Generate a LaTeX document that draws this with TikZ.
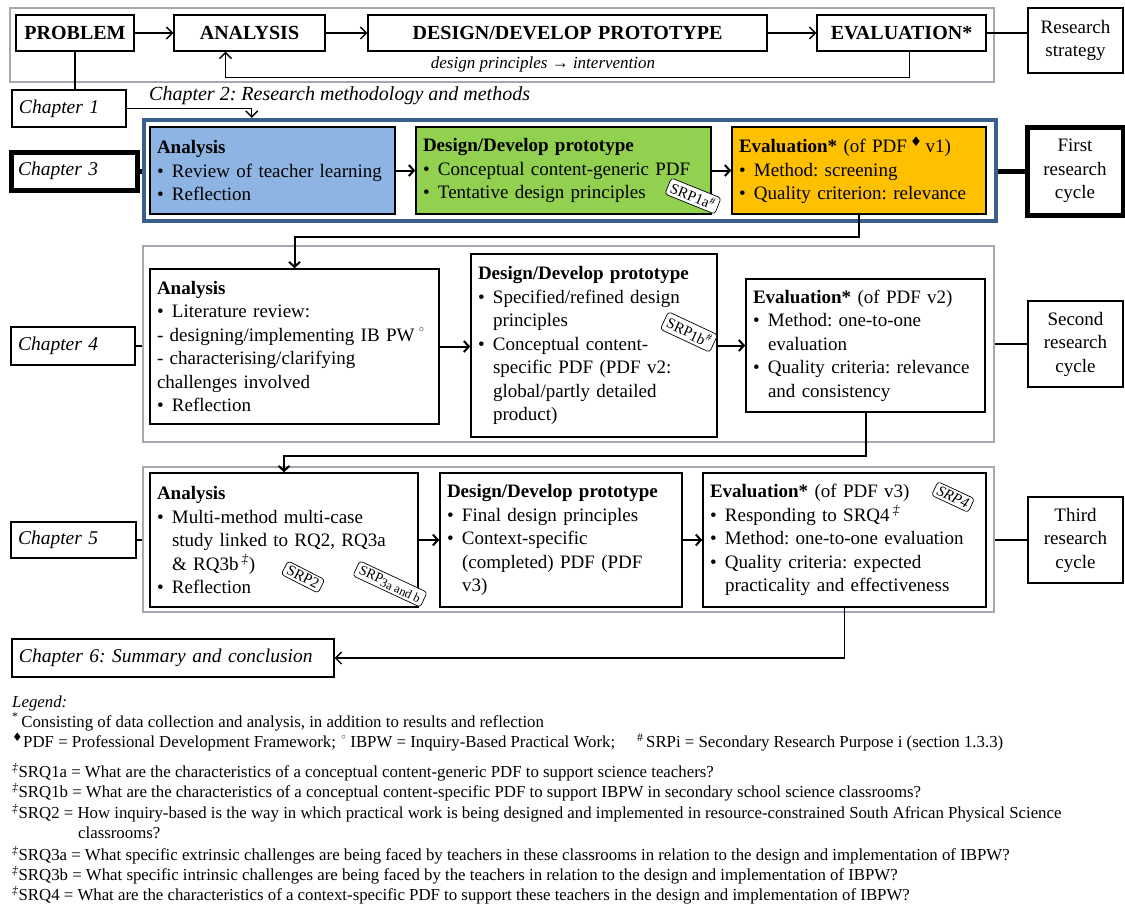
\documentclass[tikz,border=0pt]{standalone}
\usepackage{fontspec}
\setmainfont{Liberation Serif}
\newfontfamily\symfont{DejaVu Sans}
\usetikzlibrary{arrows.meta}
\frenchspacing

\definecolor{anaBlue}{HTML}{8DB4E2}
\definecolor{desGreen}{HTML}{92D050}
\definecolor{evalOrange}{HTML}{FFC000}
\definecolor{cycleBlue}{HTML}{3A5F8C}
\definecolor{frameGray}{HTML}{A3A9B0}

% box from corner (x1,y1) to (x2,y2): name, x1, y1, x2, y2, style, text
\newcommand\placebox[7]{%
  \pgfmathsetmacro\pbW{#4-#2}%
  \pgfmathsetmacro\pbH{#5-#3}%
  \pgfmathsetmacro\pbT{#4-#2-14}%
  \pgfmathsetmacro\pbX{(#2+#4)/2}%
  \pgfmathsetmacro\pbY{(#3+#5)/2}%
  \node[inner xsep=7pt, inner ysep=3pt, #6, minimum width=\pbW pt,
        minimum height=\pbH pt, text width=\pbT pt] (#1) at (\pbX,\pbY) {#7};%
}
% bullet item with hanging indent
\newcommand\bul[1]{\par\noindent\hangindent=15pt\hangafter=1\makebox[15pt][l]{\textbullet}#1\par}
\newcommand\head[1]{\noindent\textbf{#1}}
\newcommand\sym[1]{{\symfont #1}}
\newcommand\ddg{\textsuperscript{\itshape ‡}}

\tikzset{
  topbox/.style={draw, line width=1.4pt, align=center, font=\bfseries\fontsize{20}{23}\selectfont},
  sidebox/.style={draw, line width=1.1pt, align=center, font=\fontsize{19}{23.5}\selectfont},
  chapbox/.style={draw, line width=1.3pt, align=left, font=\itshape\fontsize{19.5}{23}\selectfont},
  stagebox/.style={draw, line width=1.6pt, align=left, font=\fontsize{19}{23.5}\selectfont},
  grayframe/.style={draw=frameGray, line width=1.1pt},
  blueframe/.style={draw=cycleBlue, line width=4.5pt},
  thinarr/.style={line width=1.3pt, -{Straight Barb[length=6pt,width=12pt,line width=1.3pt]}},
  arr/.style={line width=2pt, -{Straight Barb[length=5pt,width=11pt,line width=2pt]}},
  plainline/.style={line width=1.3pt},
  heavyline/.style={line width=5pt},
  tag/.style={draw, line width=0.7pt, rounded corners=3pt, fill=white, inner xsep=3.5pt,
              inner ysep=2.5pt, font=\fontsize{15}{15}\selectfont},
  legtext/.style={anchor=west, inner sep=0pt, font=\fontsize{16.8}{20}\selectfont},
}

\begin{document}
\begin{tikzpicture}[x=1pt, y=-1pt]
\useasboundingbox (0,0) rectangle (1125,906);

% ---------- research strategy ----------
\placebox{sframe}{10}{8}{994}{82}{grayframe}{}
\placebox{pr}{16}{15}{134}{51}{topbox}{PROBLEM}
\placebox{an}{174}{15}{325}{51}{topbox}{ANALYSIS}
\placebox{de}{368}{15}{767}{51}{topbox}{DESIGN/DEVELOP PROTOTYPE}
\placebox{ev}{817}{15}{986}{51}{topbox}{EVALUATION*}
\placebox{rs}{1028}{8}{1123}{73}{sidebox}{Research\\strategy}
\node[font=\itshape\fontsize{17}{20}\selectfont] (dp) at (543,64) {design principles → intervention};

\draw[thinarr] (pr.east) -- (an.west);
\draw[thinarr] (an.east) -- (de.west);
\draw[thinarr] (de.east) -- (ev.west);
\draw[plainline] (ev.east) -- (ev.east -| rs.west);
\draw[thinarr] ([xshift=8pt]ev.south) -- ++(0,26) -| ([xshift=-24pt]an.south);

% ---------- chapters 1 and 2 ----------
\placebox{ch1}{12}{90}{126}{127}{chapbox}{Chapter 1}
\draw[plainline] (pr.south) -- (pr.south |- ch1.north);
\node[anchor=west, inner sep=0pt, font=\itshape\fontsize{20}{23}\selectfont] (ch2) at (149,96)
  {Chapter 2: Research methodology and methods};

% ---------- first research cycle ----------
\placebox{c3f}{144}{120}{996}{221}{blueframe}{}
\placebox{c3a}{150}{127}{395}{214}{stagebox, fill=anaBlue}{%
  \head{Analysis}\bul{Review of teacher learning}\bul{Reflection}}
\placebox{c3d}{416}{127}{711}{214}{stagebox, fill=desGreen}{%
  \head{Design/Develop prototype}\bul{Conceptual content-generic PDF}\bul{Tentative design principles}}
\placebox{c3e}{732}{127}{986}{214}{stagebox, fill=evalOrange}{%
  \head{Evaluation*} (of PDF\,\textsuperscript{\sym{♦}}\,v1)\bul{Method: screening}\bul{Quality criterion: relevance}}
\placebox{ch3}{11}{152}{137}{190}{chapbox, line width=5pt}{Chapter 3}
\placebox{rc1}{1027}{127}{1123}{215}{sidebox, line width=5pt}{First\\research\\cycle}

\draw[thinarr] (ch1.east) -| ([xshift=110pt]c3f.north west);
\draw[heavyline] (ch3.east) -- (ch3.east -| c3f.west);
\draw[heavyline] (c3f.east |- rc1.west) -- (rc1.west);
\draw[arr] (c3a.east) -- (c3a.east -| c3d.west);
\draw[arr] (c3d.east) -- (c3d.east -| c3e.west);
\node[tag, rotate=-22] (srp1a) at (693,196) {SRP1a\textsuperscript{\#}};

% ---------- second research cycle ----------
\placebox{c4f}{143}{246}{994}{442}{grayframe}{}
\placebox{c4a}{150}{269}{439}{424}{stagebox}{%
  \head{Analysis}\bul{Literature review:}\noindent
  - designing/implementing IB PW\,\textsuperscript{\sym{◦}}\par\noindent
  - characterising/clarifying\par\noindent challenges involved\bul{Reflection}}
\placebox{c4d}{471}{254}{717}{437}{stagebox}{%
  \head{Design/Develop prototype}\bul{Specified/refined design\newline principles}%
  \bul{Conceptual content-\newline specific PDF (PDF v2:\newline global/partly detailed\newline product)}}
\placebox{c4e}{746}{279}{985}{412}{stagebox}{%
  \head{Evaluation*} (of PDF v2)\bul{Method: one-to-one\newline evaluation}%
  \bul{Quality criteria: relevance\newline and consistency}}
\placebox{ch4}{11}{327}{135}{365}{chapbox}{Chapter 4}
\placebox{rc2}{1028}{301}{1123}{387}{sidebox}{Second\\research\\cycle}

\draw[arr] (c3e.south) -- ++(0,22) -| (c4a.north);
\draw[plainline] (ch4.east) -- (ch4.east -| c4f.west);
\draw[plainline] (c4f.east |- rc2.west) -- (rc2.west);
\draw[arr] (c4a.east) -- (c4a.east -| c4d.west);
\draw[arr] (c4d.east) -- (c4d.east -| c4e.west);
\node[tag, rotate=-25] (srp1b) at (689,332) {SRP\raisebox{-2pt}{1b}\textsuperscript{\#}};

% ---------- third research cycle ----------
\placebox{c5f}{143}{467}{994}{612}{grayframe}{}
\placebox{c5a}{150}{473}{418}{607}{stagebox}{%
  \head{Analysis}\bul{Multi-method multi-case\newline study linked to RQ2, RQ3a\newline \& RQ3b\,\ddg)}%
  \bul{Reflection}}
\placebox{c5d}{440}{473}{682}{607}{stagebox}{%
  \head{Design/Develop prototype}\bul{Final design principles}%
  \bul{Context-specific\newline (completed) PDF (PDF\newline v3)}}
\placebox{c5e}{703}{473}{986}{607}{stagebox}{%
  \head{Evaluation*} (of PDF v3)\bul{Responding to SRQ4\,\ddg}\bul{Method: one-to-one evaluation}%
  \bul{Quality criteria: expected\newline practicality and effectiveness}}
\placebox{ch5}{11}{522}{136}{558}{chapbox}{Chapter 5}
\placebox{rc3}{1028}{497}{1123}{583}{sidebox}{Third\\research\\cycle}

\draw[arr] (c4e.south) -- ++(0,43) -| (c5a.north);
\draw[plainline] (ch5.east) -- (ch5.east -| c5f.west);
\draw[plainline] (c5f.east |- rc3.west) -- (rc3.west);
\draw[arr] (c5a.east) -- (c5a.east -| c5d.west);
\draw[arr] (c5d.east) -- (c5d.east -| c5e.west);
\node[tag, rotate=-27] (srp2) at (303,577) {SRP2};
\node[tag, rotate=-25, font=\fontsize{14}{14}\selectfont] (srp3) at (390,584)
  {SRP\raisebox{-2pt}{\fontsize{12.5}{12.5}\selectfont 3a and b}};
\node[tag, rotate=-25, font=\itshape\fontsize{15}{15}\selectfont] (srp4) at (953,497) {SRP4};

% ---------- chapter 6 ----------
\placebox{ch6}{12}{639}{334}{677}{chapbox}{Chapter 6: Summary and conclusion}
\draw[thinarr] (c5e.south) |- (ch6.east);

% ---------- legend ----------
\node[legtext, font=\itshape\fontsize{16.8}{20}\selectfont] (leg0) at (12,703) {Legend:};
\node[legtext] (leg1) at (12,722) {\textsuperscript{*}\,Consisting of data collection and analysis, in addition to results and reflection};
\node[legtext] (leg2) at (12,742) {\textsuperscript{\sym{♦}}PDF = Professional Development Framework; \textsuperscript{\sym{◦}}\,IBPW = Inquiry-Based Practical Work;\hspace{1.3em}\textsuperscript{\#}\,SRPi = Secondary Research Purpose i (section 1.3.3)};
\node[legtext] (leg3) at (12,772) {\ddg SRQ1a = What are the characteristics of a conceptual content-generic PDF to support science teachers?};
\node[legtext] (leg4) at (12,792) {\ddg SRQ1b = What are the characteristics of a conceptual content-specific PDF to support IBPW in secondary school science classrooms?};
\node[legtext] (leg5) at (12,813) {\ddg SRQ2 = How inquiry-based is the way in which practical work is being designed and implemented in resource-constrained South African Physical Science};
\node[legtext] (leg6) at (78,833) {classrooms?};
\node[legtext] (leg7) at (12,855) {\ddg SRQ3a = What specific extrinsic challenges are being faced by teachers in these classrooms in relation to the design and implementation of IBPW?};
\node[legtext] (leg8) at (12,875) {\ddg SRQ3b = What specific intrinsic challenges are being faced by the teachers in relation to the design and implementation of IBPW?};
\node[legtext] (leg9) at (12,895) {\ddg SRQ4 = What are the characteristics of a context-specific PDF to support these teachers in the design and implementation of IBPW?};
\end{tikzpicture}
\end{document}
